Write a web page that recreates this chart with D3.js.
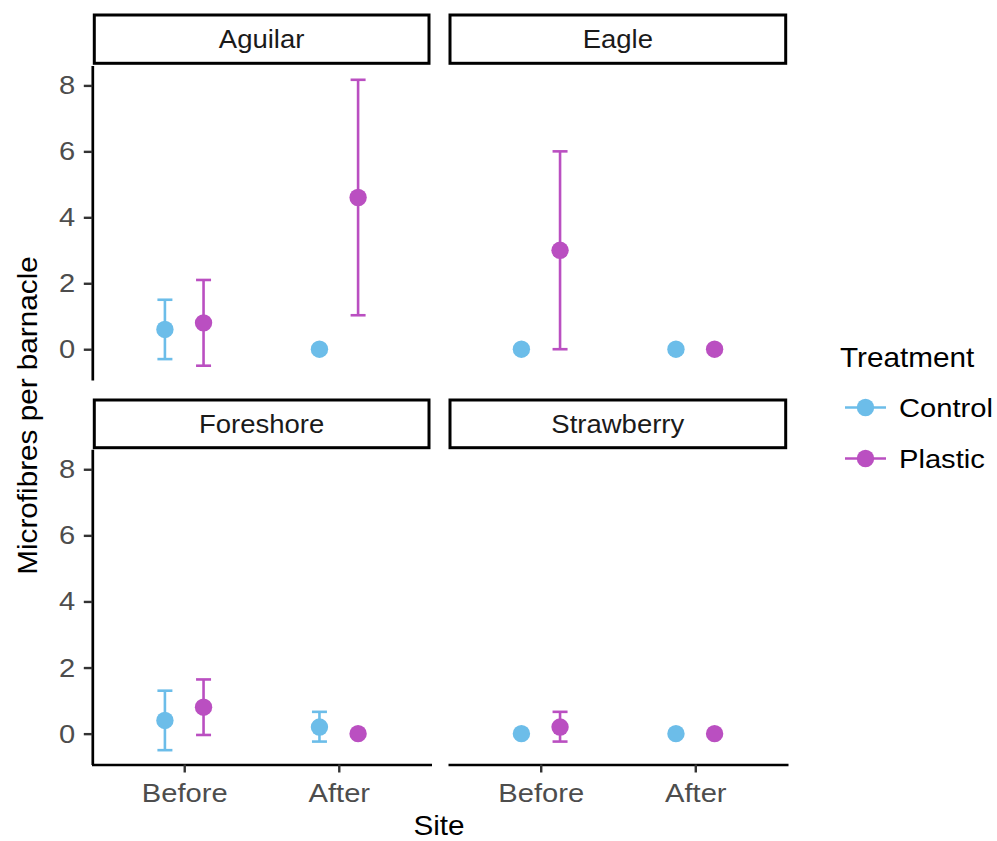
<!DOCTYPE html>
<html>
<head>
<meta charset="utf-8">
<script src="https://cdn.jsdelivr.net/npm/d3@7"></script>
<style>
  body { margin: 0; background: #fff; }
  svg { font-family: "Liberation Sans", Arial, sans-serif; }
  .sx-mid { transform-box: fill-box; transform-origin: center; transform: scaleX(1.1); }
  .sx-end { transform-box: fill-box; transform-origin: right center; transform: scaleX(1.1); }
  .sx-start { transform-box: fill-box; transform-origin: left center; transform: scaleX(1.1); }
</style>
</head>
<body>
<script>
// facets, x categories, groups
var sites = ["Aguilar", "Eagle", "Foreshore", "Strawberry"];
var periods = ["Before", "After"];
var treatments = ["Control", "Plastic"];
var colours = ["#6cbde9", "#ba4fc1"];

// per site: [Before, After]; null = no error bar
var controlMean = [[0.6, 0], [0, 0], [0.4, 0.2], [0, 0]];
var controlLow  = [[-0.3, null], [null, null], [-0.5, -0.24], [null, null]];
var controlHigh = [[1.5, null], [null, null], [1.3, 0.66], [null, null]];

var plasticMean = [[0.8, 4.6], [3, 0], [0.8, 0], [0.2, 0]];
var plasticLow  = [[-0.5, 1.03], [0, null], [-0.04, null], [-0.24, null]];
var plasticHigh = [[2.1, 8.17], [6, null], [1.64, null], [0.66, null]];

var yTicks = [0, 2, 4, 6, 8];

var rows = [];
sites.forEach(function(s, i) {
  periods.forEach(function(p, j) {
    rows.push({site: s, period: p, trt: 0, mean: controlMean[i][j], lo: controlLow[i][j], hi: controlHigh[i][j]});
    rows.push({site: s, period: p, trt: 1, mean: plasticMean[i][j], lo: plasticLow[i][j], hi: plasticHigh[i][j]});
  });
});

var W = 997, H = 841;
var colX = [[91.5, 431.5], [448, 788]];
var rowY = [[65.5, 380], [449.3, 764.5]];
var stripY = [[15, 63.3], [400, 447.7]];

var svg = d3.select("body").append("svg")
  .attr("width", W)
  .attr("height", H);

var yMin = d3.min(rows, function(d) { return d.lo == null ? d.mean : d.lo; });
var yMax = d3.max(rows, function(d) { return d.hi == null ? d.mean : d.hi; });
var yPad = (yMax - yMin) * 0.05;

sites.forEach(function(site, k) {
  var c = k % 2, r = Math.floor(k / 2);

  var x = d3.scalePoint().domain(periods).range(colX[c]).padding(0.6);
  var y = d3.scaleLinear().domain([yMin - yPad, yMax + yPad]).range([rowY[r][1], rowY[r][0]]);
  var dodge = x.step() * 0.125;
  var px = function(d) { return x(d.period) + (d.trt === 0 ? -dodge : dodge); };

  // strip
  var sx0 = colX[c][0] + (c === 0 ? 2.8 : 2), sx1 = colX[c][1] - (c === 0 ? 2.5 : 2.3);
  svg.append("rect")
    .attr("x", sx0).attr("y", stripY[r][0])
    .attr("width", sx1 - sx0).attr("height", stripY[r][1] - stripY[r][0])
    .attr("fill", "#fff").attr("stroke", "#000").attr("stroke-width", 3);
  svg.append("text")
    .attr("class", "sx-mid")
    .attr("x", (sx0 + sx1) / 2).attr("y", stripY[r][1] - 15)
    .attr("text-anchor", "middle")
    .attr("font-size", 25).attr("fill", "#1a1a1a")
    .text(site);

  var data = rows.filter(function(d) { return d.site === site; });
  var g = svg.append("g");

  // error bars
  var eb = g.selectAll("g.eb")
    .data(data.filter(function(d) { return d.lo != null; }))
    .enter().append("g")
    .attr("stroke", function(d) { return colours[d.trt]; })
    .attr("stroke-width", 2.6);
  eb.append("line")
    .attr("x1", px).attr("x2", px)
    .attr("y1", function(d) { return y(d.lo); })
    .attr("y2", function(d) { return y(d.hi); });
  eb.append("line")
    .attr("x1", function(d) { return px(d) - 7.5; })
    .attr("x2", function(d) { return px(d) + 7.5; })
    .attr("y1", function(d) { return y(d.lo); })
    .attr("y2", function(d) { return y(d.lo); });
  eb.append("line")
    .attr("x1", function(d) { return px(d) - 7.5; })
    .attr("x2", function(d) { return px(d) + 7.5; })
    .attr("y1", function(d) { return y(d.hi); })
    .attr("y2", function(d) { return y(d.hi); });

  // points
  g.selectAll("circle")
    .data(data)
    .enter().append("circle")
    .attr("cx", px)
    .attr("cy", function(d) { return y(d.mean); })
    .attr("r", 8.7)
    .attr("fill", function(d) { return colours[d.trt]; });

  // axes
  if (c === 0) {
    var ay = svg.append("g")
      .attr("transform", "translate(92.3,0)")
      .call(d3.axisLeft(y).tickValues(yTicks).tickSize(8.5).tickPadding(8.5).tickSizeOuter(0));
    ay.select(".domain").attr("stroke", "#000").attr("stroke-width", 2.7);
    ay.selectAll(".tick line").attr("stroke", "#333").attr("stroke-width", 2.4);
    ay.selectAll(".tick text")
      .attr("class", "sx-end")
      .attr("font-size", 26.5).attr("fill", "#4d4d4d")
      .attr("font-family", "Liberation Sans, Arial, sans-serif");
  }
  if (r === 1) {
    var ax = svg.append("g")
      .attr("transform", "translate(0," + rowY[1][1] + ")")
      .call(d3.axisBottom(x).tickSize(8).tickSizeOuter(0));
    ax.select(".domain").attr("stroke", "#000").attr("stroke-width", 2.7);
    ax.selectAll(".tick line").attr("stroke", "#333").attr("stroke-width", 2.4);
    ax.selectAll(".tick text")
      .attr("class", "sx-mid")
      .attr("y", 37.5).attr("dy", null)
      .attr("font-size", 26.5).attr("fill", "#4d4d4d")
      .attr("font-family", "Liberation Sans, Arial, sans-serif");
  }
});

// axis titles
svg.append("text")
  .attr("transform", "translate(37,415.5) rotate(-90) scale(1.1,1)")
  .attr("text-anchor", "middle")
  .attr("font-size", 27).attr("fill", "#000")
  .text("Microfibres per barnacle");

svg.append("text")
  .attr("class", "sx-mid")
  .attr("x", 439).attr("y", 835)
  .attr("text-anchor", "middle")
  .attr("font-size", 27).attr("fill", "#000")
  .text("Site");

// legend
var legend = svg.append("g");
legend.append("text")
  .attr("class", "sx-start")
  .attr("x", 840).attr("y", 367)
  .attr("font-size", 27).attr("fill", "#000")
  .text("Treatment");

var keys = legend.selectAll("g.key")
  .data(treatments)
  .enter().append("g")
  .attr("transform", function(d, i) { return "translate(0," + (407.5 + i * 51) + ")"; });
keys.append("line")
  .attr("x1", 845).attr("x2", 886)
  .attr("stroke", function(d, i) { return colours[i]; })
  .attr("stroke-width", 2.6);
keys.append("circle")
  .attr("cx", 865.5).attr("r", 8.7)
  .attr("fill", function(d, i) { return colours[i]; });
keys.append("text")
  .attr("class", "sx-start")
  .attr("x", 899).attr("y", 9.5)
  .attr("font-size", 26.5).attr("fill", "#000")
  .text(function(d) { return d; });
</script>
</body>
</html>
